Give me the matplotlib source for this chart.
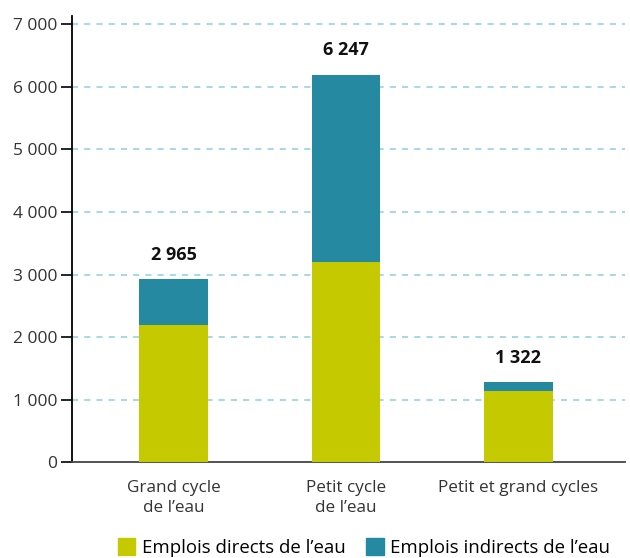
import matplotlib.pyplot as plt
import matplotlib.patches as mpatches
import numpy as np

# données
categories = ["Grand cycle\nde l’eau", "Petit cycle\nde l’eau", "Petit et grand cycles"]
directs = [2190, 3195, 1140]
indirects = [735, 3000, 142]
totaux_affiches = ["2 965", "6 247", "1 322"]
yticks = [0, 1000, 2000, 3000, 4000, 5000, 6000, 7000]
ytick_labels = ["0", "1 000", "2 000", "3 000", "4 000", "5 000", "6 000", "7 000"]

col_directs = "#c4c900"
col_indirects = "#2589a2"
col_grid = "#8dd0dc"

plt.rcParams['font.family'] = ['Open Sans', 'DejaVu Sans']

fig = plt.figure(figsize=(6.3, 5.58), dpi=100)
ax = fig.add_axes([0.1148, 0.1713, 0.877, 0.80])

x = np.arange(len(categories))
w = 0.40
ax.bar(x, directs, width=w, color=col_directs, zorder=3)
ax.bar(x, indirects, width=w, bottom=directs, color=col_indirects, zorder=3)

# totaux au-dessus des barres
for xi, d, i, lab in zip(x, directs, indirects, totaux_affiches):
    ax.annotate(lab, (xi, d + i), xytext=(0, 11), textcoords='offset points',
                ha='center', va='bottom', fontsize=13, fontweight='bold',
                color='#111111')

ax.set_ylim(0, 7130)
ax.set_xlim(-0.59, 2.62)
ax.set_yticks(yticks)
ax.set_yticklabels(ytick_labels, fontsize=12.5, color='#333333')
ax.set_xticks(x)
ax.set_xticklabels(categories, fontsize=12.3, color='#333333', linespacing=1.3)
ax.tick_params(axis='x', length=0, pad=13)
ax.tick_params(axis='y', length=8, width=1.2, direction='out', pad=3)

for yv in yticks[1:]:
    ax.axhline(yv, color=col_grid, linestyle=(0, (4, 4)), linewidth=1.1, zorder=1)

ax.spines['top'].set_visible(False)
ax.spines['right'].set_visible(False)
ax.spines['left'].set_linewidth(1.3)
ax.spines['bottom'].set_linewidth(1.3)
ax.spines['bottom'].set_color('#444444')

handles = [mpatches.Patch(color=col_directs, label="Emplois directs de l’eau"),
           mpatches.Patch(color=col_indirects, label="Emplois indirects de l’eau")]
fig.legend(handles=handles, loc='lower left', bbox_to_anchor=(0.187, 0.002),
           ncol=2, frameon=False, fontsize=13.4, handlelength=0.95, handleheight=1.0,
           handletextpad=0.35, columnspacing=1.1, borderpad=0, borderaxespad=0)

plt.savefig("out.png", dpi=100)
plt.close()
